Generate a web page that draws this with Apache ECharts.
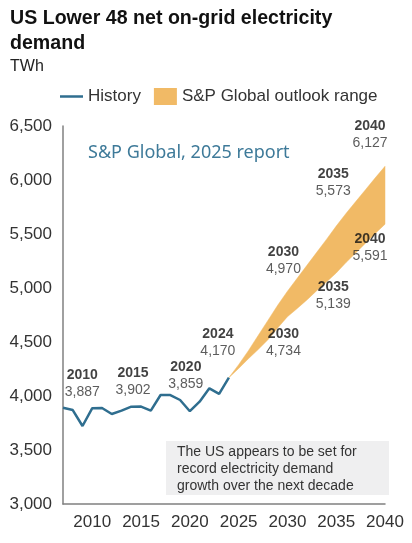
<!DOCTYPE html>
<html>
<head>
<meta charset="utf-8">
<script src="https://cdn.jsdelivr.net/npm/echarts@6/dist/echarts.min.js"></script>
<style>html,body{margin:0;padding:0;background:#fff}#c{width:412px;height:543px}</style>
</head>
<body>
<div id="c"></div>
<script>
// ---- data ----
const historyYears = [2007,2008,2009,2010,2011,2012,2013,2014,2015,2016,2017,2018,2019,2020,2021,2022,2023,2024];
const historyValues = [3892,3870,3722,3887,3889,3833,3864,3901,3902,3864,4009,4009,3963,3859,3947,4071,4019,4170];
const outlookYears = [2024,2025,2026,2027,2028,2029,2030,2031,2032,2033,2034,2035,2036,2037,2038,2039,2040];
const outlookLow  = [4170,4255,4345,4430,4520,4630,4734,4810,4890,4975,5055,5139,5235,5325,5415,5505,5591];
const outlookHigh = [4170,4290,4420,4560,4700,4840,4970,5090,5210,5330,5450,5573,5690,5800,5910,6020,6127];
const calloutYears  = [2010,2015,2020,2024,2030,2030,2035,2035,2040,2040];
const calloutValues = [3887,3902,3859,4170,4734,4970,5139,5573,5591,6127];
const xTickLabels = [2010,2015,2020,2025,2030,2035,2040];
const yTickLabels = [3000,3500,4000,4500,5000,5500,6000,6500];

// ---- label placement (styles, not data) ----
const calloutOffsets = [[-10,-25],[-8,-25],[-4,-36],[-11,-35],[-4,26],[-4,-31],[-3,23],[-3,-43],[-15,23],[-15,-32]];

const FONT = '"Liberation Sans", Arial, sans-serif';
const BAND = '#F1BA66';
const LINE = '#2F6E8F';
const fmt = v => v.toLocaleString('en-US');

const chart = echarts.init(document.getElementById('c'), null, {renderer:'canvas'});
const option = {
  animation: false,
  textStyle: {fontFamily: FONT},
  title: {
    text: 'US Lower 48 net on-grid electricity\ndemand',
    subtext: 'TWh',
    left: 10, top: 6, itemGap: 2, padding: 0,
    textStyle: {fontFamily: FONT, fontSize: 19.6, fontWeight: 'bold', color: '#111', lineHeight: 25},
    subtextStyle: {fontFamily: FONT, fontSize: 16, color: '#222', lineHeight: 18}
  },
  legend: {
    left: 60, top: 88, padding: 0,
    itemWidth: 23, itemHeight: 17, itemGap: 13,
    symbolKeepAspect: true,
    textStyle: {fontFamily: FONT, fontSize: 17, color: '#333'},
    data: [
      {name: 'History', icon: 'path://M0,0H23V2.5H0Z', itemStyle: {color: LINE}},
      {name: 'S&P Global outlook range', icon: 'rect', itemStyle: {color: BAND}}
    ]
  },
  grid: {left: 63, right: 27, top: 126, bottom: 39},
  xAxis: {
    type: 'value', min: 2007, max: 2040,
    axisLine: {show: true, lineStyle: {color: '#808080', width: 1.5}},
    axisTick: {show: false},
    splitLine: {show: false},
    axisLabel: {customValues: xTickLabels, fontSize: 17, color: '#333', margin: 10, fontFamily: FONT, formatter: v => String(v)}
  },
  yAxis: {
    type: 'value', min: 3000, max: 6500, interval: 500,
    axisLine: {show: true, lineStyle: {color: '#808080', width: 1.5}},
    axisTick: {show: false},
    splitLine: {show: false},
    axisLabel: {customValues: yTickLabels, fontSize: 17, color: '#333', margin: 11, fontFamily: FONT, formatter: v => fmt(v)}
  },
  series: [
    {
      name: 'S&P Global outlook range', type: 'custom', z: 2,
      itemStyle: {color: BAND},
      encode: {x: 0, y: [1, 2]},
      data: outlookYears.map((y, i) => [y, outlookLow[i], outlookHigh[i]]),
      renderItem: function (params, api) {
        if (params.dataIndex !== 0) return null;
        const upper = outlookYears.map((y, i) => api.coord([y, outlookHigh[i]]));
        const lower = outlookYears.map((y, i) => api.coord([y, outlookLow[i]])).reverse();
        return {
          type: 'polygon',
          shape: {points: upper.concat(lower)},
          style: {fill: BAND, stroke: BAND, lineWidth: 0.5}
        };
      }
    },
    {
      name: 'History', type: 'line', symbol: 'none', z: 5,
      itemStyle: {color: LINE},
      lineStyle: {color: LINE, width: 2.5},
      data: historyYears.map((y, i) => [y, historyValues[i]])
    },
    {
      name: 'callouts', type: 'scatter', symbolSize: 0, silent: true, z: 6,
      data: calloutYears.map((y, i) => ({
        value: [y, calloutValues[i]],
        label: {offset: calloutOffsets[i]}
      })),
      label: {
        show: true, position: 'inside', align: 'center', verticalAlign: 'middle',
        formatter: p => '{y|' + p.value[0] + '}\n{v|' + fmt(p.value[1]) + '}',
        rich: {
          y: {fontFamily: FONT, fontSize: 14, fontWeight: 'bold', color: '#111', lineHeight: 17, align: 'center'},
          v: {fontFamily: FONT, fontSize: 14, color: '#333', lineHeight: 17, align: 'center'}
        }
      }
    }
  ],
  graphic: [
    {
      type: 'text', left: 88, top: 144, z: 10,
      style: {text: 'S&P Global, 2025 report', fill: '#3E7A99', font: '18px "Noto Sans", "Open Sans", sans-serif'}
    },
    {
      type: 'group', left: 166, top: 441, z: 10,
      children: [
        {type: 'rect', shape: {x: 0, y: 0, width: 223, height: 54}, style: {fill: '#EFEFF0'}},
        {type: 'text', x: 11, y: 3, style: {
          text: 'The US appears to be set for\nrecord electricity demand\ngrowth over the next decade',
          fill: '#333', font: '14px ' + FONT, lineHeight: 17
        }}
      ]
    }
  ]
};
chart.setOption(option);
</script>
</body>
</html>
